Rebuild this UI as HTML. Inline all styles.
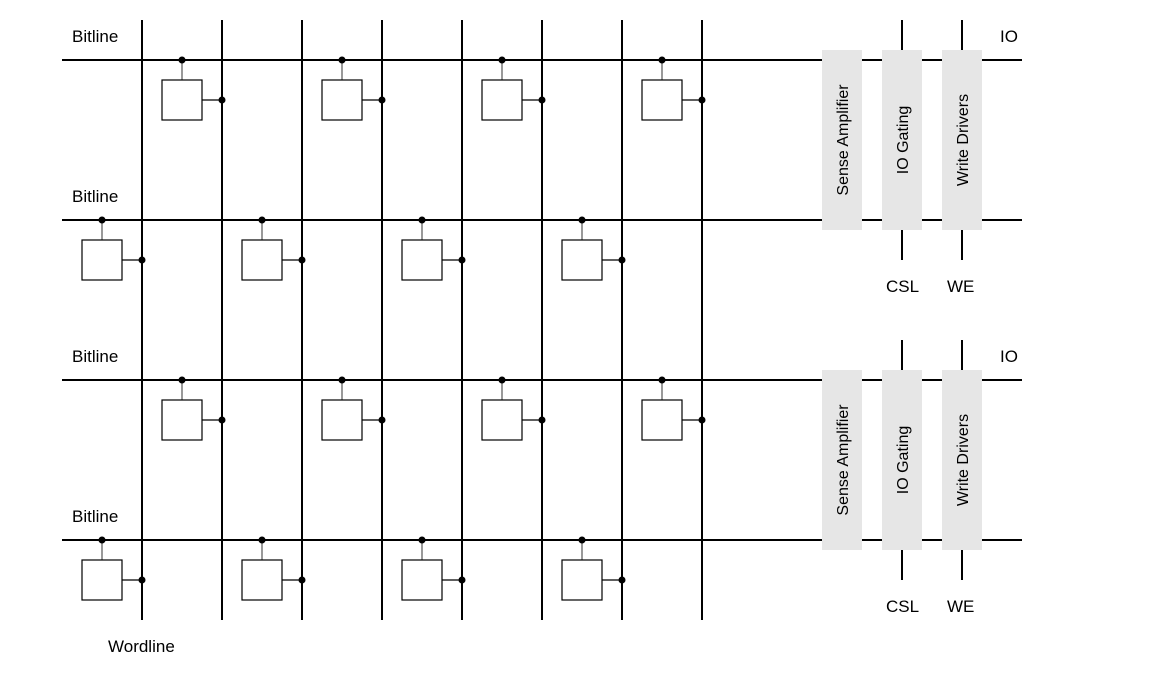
<!DOCTYPE html>
<html><head><style>body{margin:0;background:#fff}svg{display:block}text{font-family:"Liberation Sans",Arial,sans-serif;font-size:17px;fill:#000}</style></head>
<body>
<svg id="s" width="1168" height="677" xmlns="http://www.w3.org/2000/svg">
<g id="g"></g>
<text x="72" y="42">Bitline</text>
<text x="72" y="202">Bitline</text>
<text x="72" y="362">Bitline</text>
<text x="72" y="522">Bitline</text>
<text x="108" y="652">Wordline</text>
<text x="1000" y="42">IO</text>
<text x="1000" y="362">IO</text>
<text x="886" y="292">CSL</text>
<text x="947" y="292">WE</text>
<text x="886" y="612">CSL</text>
<text x="947" y="612">WE</text>
<text transform="translate(848,140) rotate(-90)" text-anchor="middle" style="font-size:16px">Sense Amplifier</text>
<text transform="translate(908,140) rotate(-90)" text-anchor="middle" style="font-size:16px">IO Gating</text>
<text transform="translate(968,140) rotate(-90)" text-anchor="middle" style="font-size:16px">Write Drivers</text>
<text transform="translate(848,460) rotate(-90)" text-anchor="middle" style="font-size:16px">Sense Amplifier</text>
<text transform="translate(908,460) rotate(-90)" text-anchor="middle" style="font-size:16px">IO Gating</text>
<text transform="translate(968,460) rotate(-90)" text-anchor="middle" style="font-size:16px">Write Drivers</text>
</svg>
<script>
var g=document.getElementById('g'),h='';
function L(a,b,c,d,w,col){h+='<line x1="'+a+'" y1="'+b+'" x2="'+c+'" y2="'+d+'" stroke="'+(col||'#000')+'" stroke-width="'+(w||2)+'"/>';}
function D(x,y){h+='<circle cx="'+x+'" cy="'+y+'" r="3.5" fill="#000"/>';}
var cols=[142,222,302,382,462,542,622,702];
[60,220,380,540].forEach(function(B){L(62,B,1022,B);});
cols.forEach(function(c){L(c,20,c,620);});
[0,320].forEach(function(o){
 [822,882,942].forEach(function(x){h+='<rect x="'+x+'" y="'+(50+o)+'" width="40" height="180" fill="#e6e6e6"/>';});
 [902,962].forEach(function(x){L(x,20+o,x,50+o);L(x,230+o,x,260+o);});
});
[60,380].forEach(function(B){[142,302,462,622].forEach(function(c){
 L(c+40,B,c+40,B+20,1.2,'#555');h+='<rect x="'+(c+20)+'" y="'+(B+20)+'" width="40" height="40" fill="#fff" stroke="#000" stroke-width="1.2"/>';
 L(c+60,B+40,c+80,B+40,1.2);D(c+40,B);D(c+80,B+40);});});
[220,540].forEach(function(B){[142,302,462,622].forEach(function(c){
 L(c-40,B,c-40,B+20,1.2,'#555');h+='<rect x="'+(c-60)+'" y="'+(B+20)+'" width="40" height="40" fill="#fff" stroke="#000" stroke-width="1.2"/>';
 L(c-20,B+40,c,B+40,1.2);D(c-40,B);D(c,B+40);});});
g.innerHTML=h;
</script>
</body></html>
